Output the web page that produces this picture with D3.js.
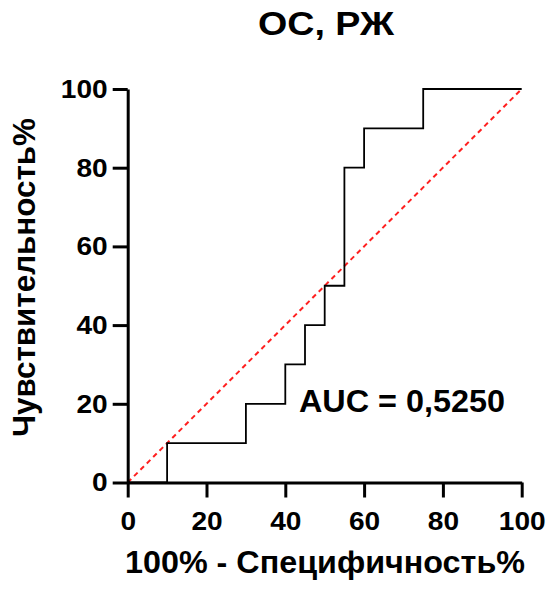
<!DOCTYPE html>
<html>
<head>
<meta charset="utf-8">
<script src="https://cdn.jsdelivr.net/npm/d3@7"></script>
<style>
  body { margin: 0; background: #fff; }
  svg { display: block; }
  text { font-family: "Liberation Sans", Arial, sans-serif; font-weight: bold; fill: #000; }
</style>
</head>
<body>
<svg id="chart" width="547" height="589"></svg>
<script>
// ROC curve points: 100% - specificity (x) and sensitivity (y), in percent
const specCompl = [0, 10, 10, 30, 30, 40, 40, 45, 45, 50, 50, 55, 55, 60, 60, 75, 75, 100];
const sensitivity = [0, 0, 10, 10, 20, 20, 30, 30, 40, 40, 50, 50, 80, 80, 90, 90, 100, 100];
const refLine = [[0, 0], [100, 100]];
const xTicks = [0, 20, 40, 60, 80, 100];
const yTicks = [0, 20, 40, 60, 80, 100];
const title = "ОС, РЖ";
const xTitle = "100% - Специфичность%";
const yTitle = "Чувствительность%";
const aucLabel = "AUC = 0,5250";

const svg = d3.select("#chart");
const plot = { left: 127.7, right: 521.7, top: 89, bottom: 482.5 };

const x = d3.scaleLinear().domain([0, 100]).range([plot.left, plot.right]);
const y = d3.scaleLinear().domain([0, 100]).range([plot.bottom, plot.top]);

// diagonal reference line
svg.append("line")
  .attr("x1", x(refLine[0][0])).attr("y1", y(refLine[0][1]))
  .attr("x2", x(refLine[1][0])).attr("y2", y(refLine[1][1]))
  .attr("stroke", "#ff2020").attr("stroke-width", 2)
  .attr("stroke-dasharray", "5,4");

// ROC step curve
const pts = specCompl.map((v, i) => [v, sensitivity[i]]);
svg.append("path")
  .attr("d", d3.line().x(d => x(d[0])).y(d => y(d[1]))(pts))
  .attr("fill", "none").attr("stroke", "#000").attr("stroke-width", 1.8);

// axes
const xAxis = svg.append("g").attr("transform", `translate(0,${plot.bottom})`)
  .call(d3.axisBottom(x).tickValues(xTicks).tickSize(15).tickPadding(14).tickSizeOuter(0));
const yAxis = svg.append("g").attr("transform", `translate(${plot.left},0)`)
  .call(d3.axisLeft(y).tickValues(yTicks).tickSize(15).tickPadding(5).tickSizeOuter(0));

[xAxis, yAxis].forEach(g => {
  g.select(".domain").attr("stroke", "#000").attr("stroke-width", 3);
  g.selectAll(".tick line").attr("stroke", "#000").attr("stroke-width", 3);
  g.selectAll(".tick text")
    .style("font-size", "26px").style("font-family", "Liberation Sans, Arial, sans-serif")
    .style("font-weight", "bold").attr("fill", "#000")
    // slightly wider digits
    .each(function () {
      const w = this.getComputedTextLength();
      d3.select(this).attr("textLength", w * 1.08).attr("lengthAdjust", "spacingAndGlyphs");
    });
});

// titles
svg.append("text").attr("x", 258).attr("y", 35)
  .attr("textLength", 136).attr("lengthAdjust", "spacingAndGlyphs")
  .style("font-size", "33px").text(title);
svg.append("text").attr("x", 125).attr("y", 573)
  .attr("textLength", 400).attr("lengthAdjust", "spacingAndGlyphs")
  .style("font-size", "31px").text(xTitle);
svg.append("text").attr("transform", "translate(35,437) rotate(-90)")
  .attr("textLength", 319).attr("lengthAdjust", "spacingAndGlyphs")
  .style("font-size", "31px").text(yTitle);

// AUC annotation
svg.append("text").attr("x", 299).attr("y", 412)
  .attr("textLength", 206).attr("lengthAdjust", "spacingAndGlyphs")
  .style("font-size", "32px").text(aucLabel);
</script>
</body>
</html>
